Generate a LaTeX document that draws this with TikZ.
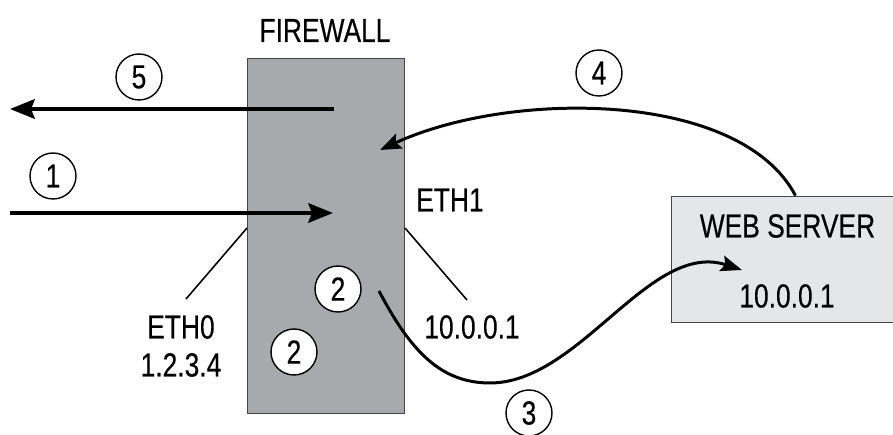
\documentclass[tikz,border=0pt]{standalone}
\usepackage{fontspec}
\setmainfont{Liberation Sans}[FakeStretch=0.79,FakeBold=0.3]
\usetikzlibrary{arrows.meta}
\definecolor{fwgray}{RGB}{168,169,173}
\definecolor{srvgray}{RGB}{229,230,232}
\definecolor{inkgray}{RGB}{70,70,72}
\tikzset{
	lbl/.style={inner sep=0pt, font=\fontsize{19}{22}\selectfont},
	num/.style={circle, draw, line width=0.8pt, fill=white, inner sep=0pt, minimum size=0.92cm, font=\fontsize{19}{22}\selectfont},
	thickarrow/.style={line width=2.4pt, -{Stealth[length=14pt,width=11pt,inset=2pt]}},
	curvearrow/.style={line width=1.7pt, -{Stealth[length=12pt,width=9pt,inset=2pt]}},
	lead/.style={line width=0.9pt},
}
\begin{document}
\begin{tikzpicture}[x=0.02cm, y=-0.02cm]
	\useasboundingbox (0,0) rectangle (893,435);
	% boxes
	\node[draw=inkgray, fill=fwgray, inner sep=0pt, minimum width=3.14cm, minimum height=7.1cm] (fw) at (325.5,235.5) {};
	\node[draw=inkgray, fill=srvgray, inner sep=0pt, minimum width=4.98cm, minimum height=2.52cm] (srv) at (795.5,259) {};
	\node[lbl] (fwname) at (325,30.5) {FIREWALL};
	\node[lbl] (srvname) at (787.5,226) {WEB SERVER};
	\node[lbl] (srvip) at (787,296) {10.0.0.1};
	\node[lbl] (eth1) at (450,200) {ETH1};
	\node[lbl] (eth1ip) at (472,327) {10.0.0.1};
	\node[lbl] (eth0) at (181,327) {ETH0};
	\node[lbl] (eth0ip) at (181,365) {1.2.3.4};
	% arrow ends
	\coordinate (out5) at (334,109);
	\coordinate (left5) at (10,109);
	\coordinate (left1) at (10,213);
	\coordinate (in1) at (333,213);
	\coordinate (in4) at (380,150);
	\coordinate (from3) at (379,291);
	\coordinate (low3) at (490,383);
	\coordinate (to3) at (742,270);
	\coordinate (eth0a) at (247,228);
	\coordinate (eth0b) at (186,299);
	\coordinate (eth1a) at (405,228);
	\coordinate (eth1b) at (467,300);
	% connectors
	\draw[thickarrow] (out5) -- (left5);
	\draw[thickarrow] (left1) -- (in1);
	\draw[curvearrow] (srv.north) .. controls (740,90) and (510,90) .. (in4);
	\draw[line width=1.7pt] (from3) .. controls (410,350) and (440,383) .. (low3);
	\draw[curvearrow] (low3) .. controls (580,383) and (650,240) .. (to3);
	\draw[lead] (eth0a) -- (eth0b);
	\draw[lead] (eth1a) -- (eth1b);
	% step numbers
	\node[num] (n5) at (139,77) {5};
	\node[num] (n1) at (53,176) {1};
	\node[num] (n4) at (599,73) {4};
	\node[num] (n2a) at (338,289) {2};
	\node[num] (n2b) at (294,352) {2};
	\node[num] (n3) at (529,413) {3};
\end{tikzpicture}
\end{document}
